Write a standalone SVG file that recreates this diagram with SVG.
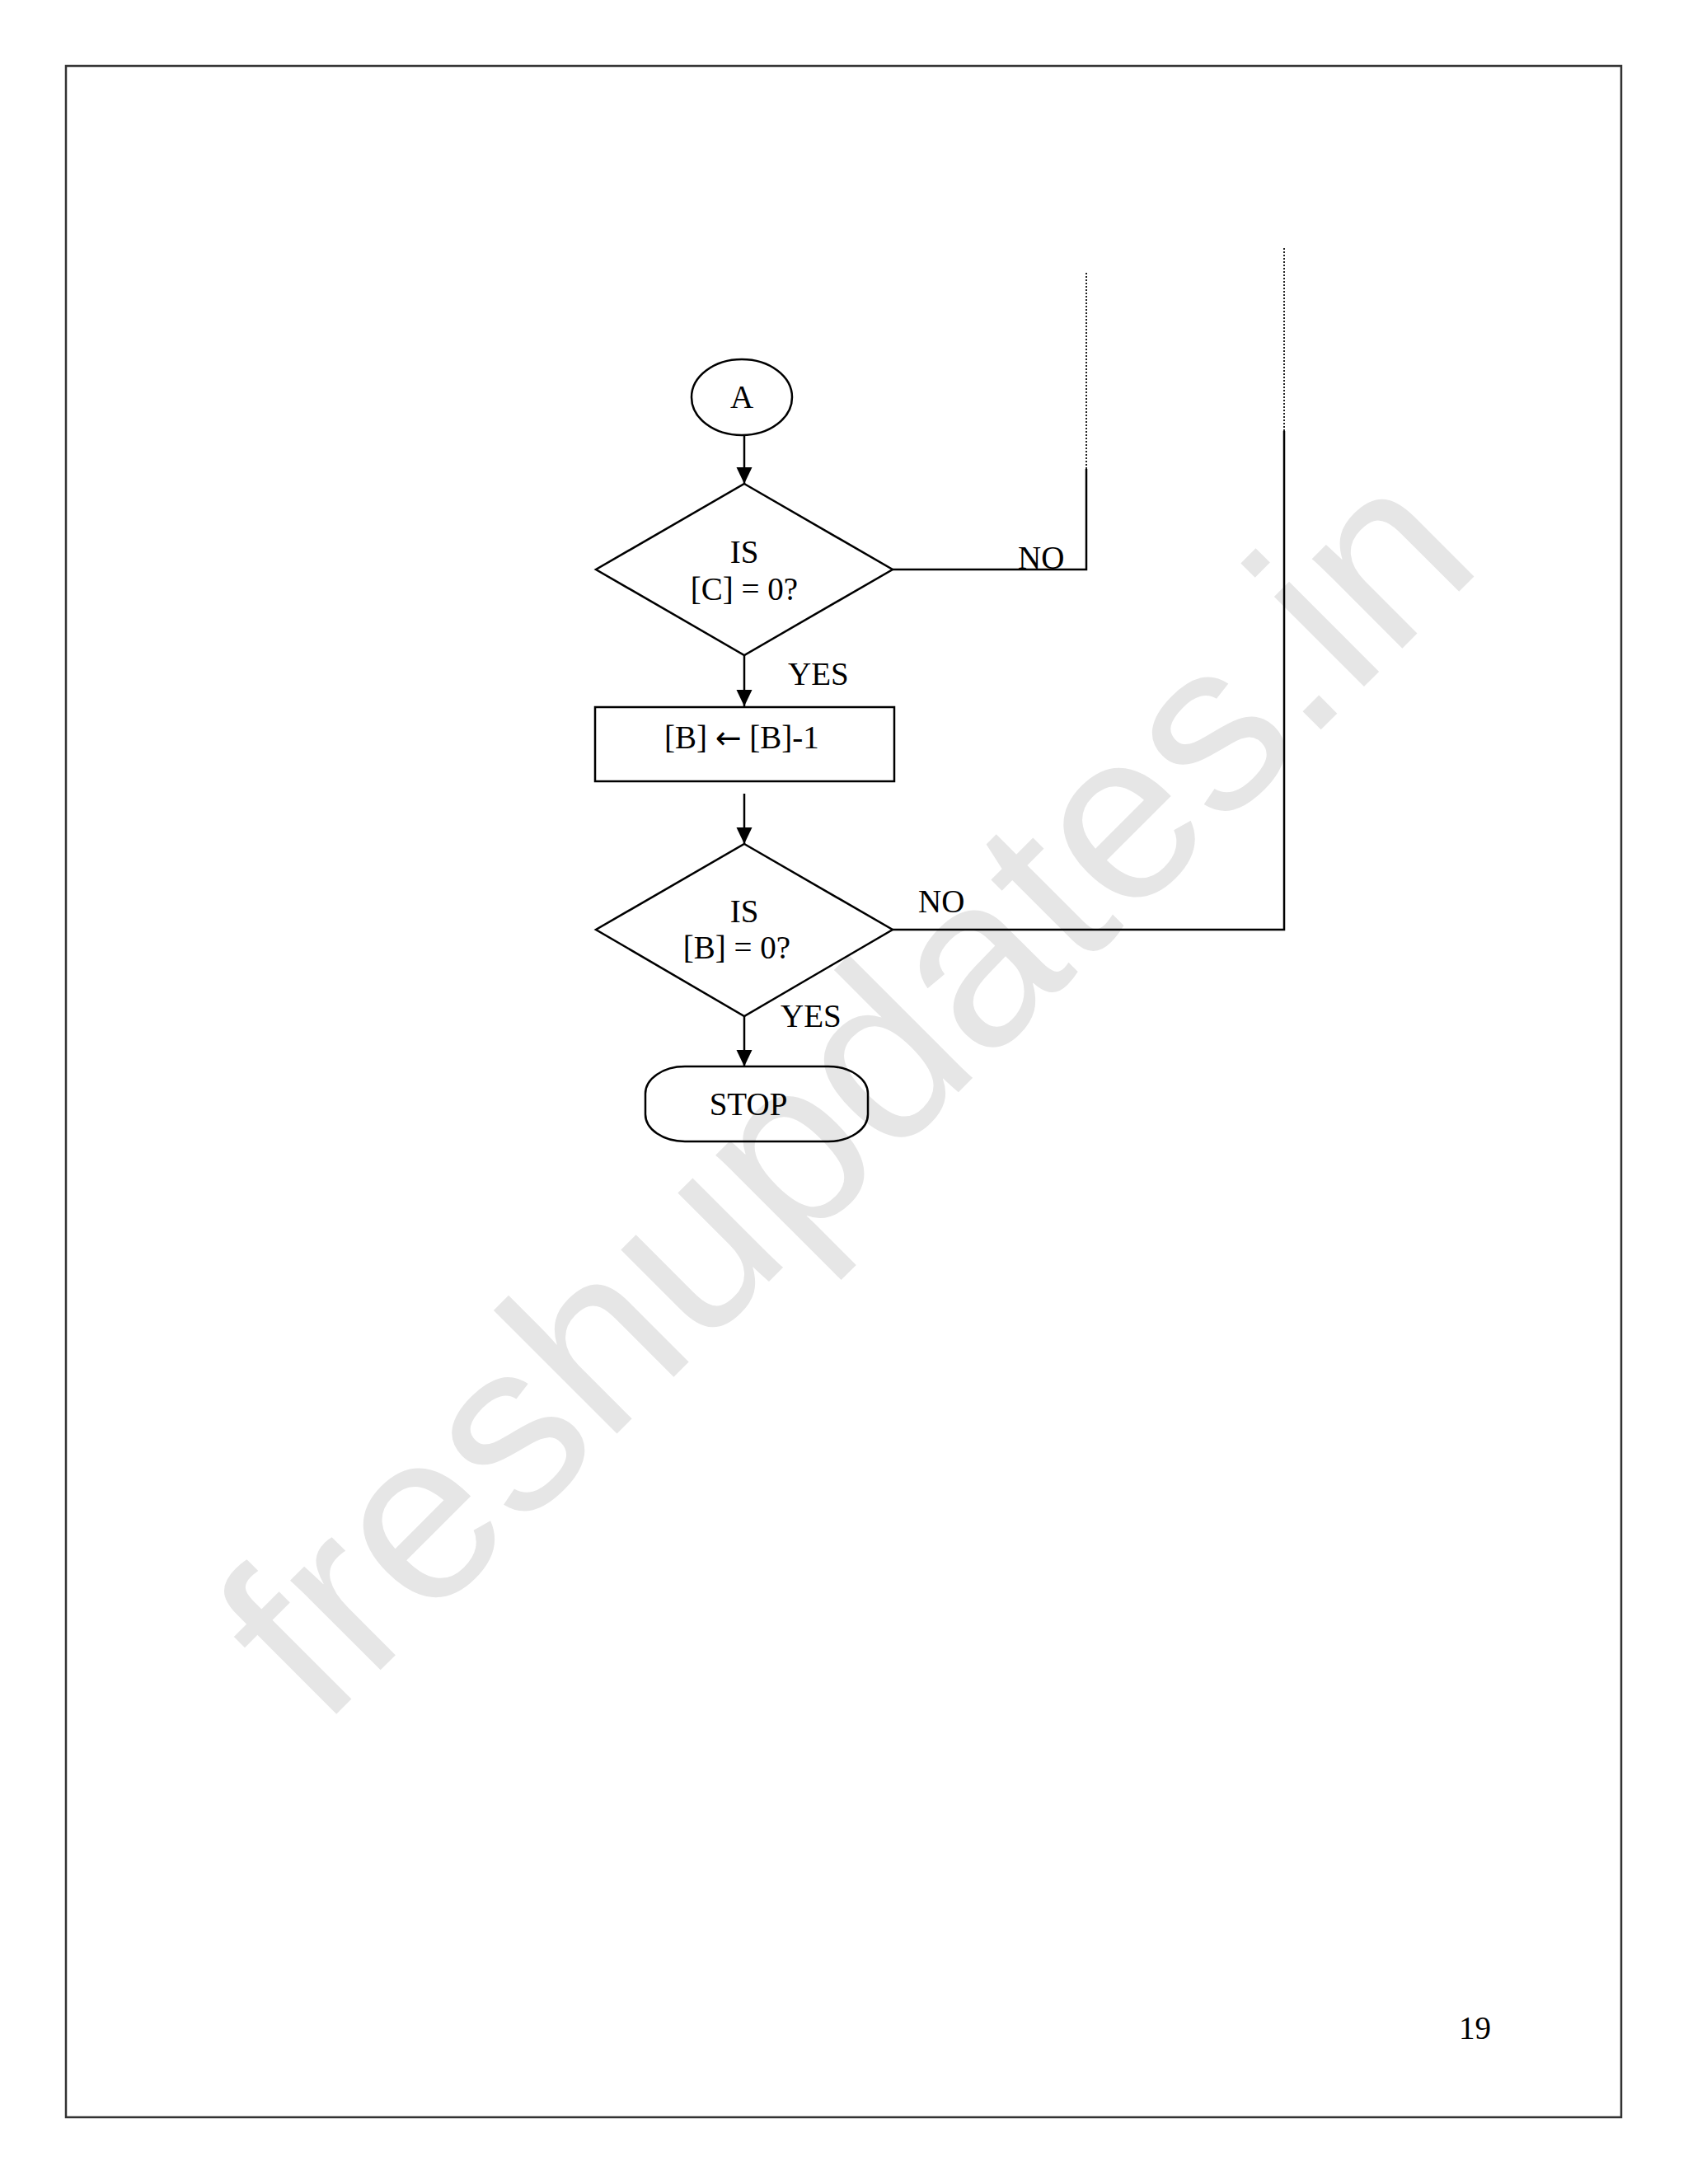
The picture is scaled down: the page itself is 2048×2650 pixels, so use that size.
<svg xmlns="http://www.w3.org/2000/svg" width="2048" height="2650" viewBox="0 0 2048 2650">
<style>
.shape{fill:none;stroke:#000;stroke-width:2.5}
.conn{fill:none;stroke:#000;stroke-width:2.5}
.dot{fill:none;stroke:#222;stroke-width:2;stroke-dasharray:2 2}
.t{font-family:"Liberation Serif","Times New Roman",serif;font-size:39px;fill:#000}
.c{text-anchor:middle}
.arr{font-family:"DejaVu Sans",sans-serif;font-size:38px}
.wm{font-family:"Liberation Sans",Arial,sans-serif;font-size:292px;fill:#e6e6e6}
</style>
<defs>
<marker id="ah" markerUnits="userSpaceOnUse" markerWidth="20" markerHeight="24" refX="20" refY="9.5" orient="auto">
<path d="M0,0 L20,9.5 L0,19 Z" fill="#000"/>
</marker>
</defs>
<rect width="2048" height="2650" fill="#fff"/>
<text class="wm" transform="translate(390,2098) rotate(-45)">freshupdates.in</text>
<rect id="page" x="80" y="80" width="1887" height="2489" fill="none" stroke="#333" stroke-width="2.5"/>
<g id="connectors">
<line class="conn" x1="903" y1="527" x2="903" y2="587" marker-end="url(#ah)"/>
<line class="conn" x1="903" y1="795" x2="903" y2="857" marker-end="url(#ah)"/>
<line class="conn" x1="903" y1="963" x2="903" y2="1024" marker-end="url(#ah)"/>
<line class="conn" x1="903" y1="1233" x2="903" y2="1294" marker-end="url(#ah)"/>
<polyline class="conn" points="1083,691 1318,691 1318,569"/>
<line class="dot" x1="1318" y1="569" x2="1318" y2="330"/>
<polyline class="conn" points="1083,1128 1558,1128 1558,523"/>
<line class="dot" x1="1558" y1="523" x2="1558" y2="300"/>
<text class="t" x="1235" y="690">NO</text>
<text class="t" x="956" y="831">YES</text>
<text class="t" x="1114" y="1107">NO</text>
<text class="t" x="947" y="1246">YES</text>
</g>
<g id="node-a">
<ellipse class="shape" cx="900" cy="482" rx="61" ry="46"/>
<text class="t c" x="900" y="495">A</text>
</g>
<g id="node-dec-c">
<polygon class="shape" points="903,587 1083,691 903,795 723,691"/>
<text class="t c" x="903" y="683">IS</text>
<text class="t c" x="903" y="728">[C] = 0?</text>
</g>
<g id="node-dec-b-step">
<rect class="shape" x="722" y="858" width="363" height="90"/>
<text class="t" x="806" y="908">[B] <tspan class="arr">←</tspan> [B]-1</text>
</g>
<g id="node-dec-b">
<polygon class="shape" points="903,1024 1083,1128 903,1233 723,1128"/>
<text class="t c" x="903" y="1119">IS</text>
<text class="t c" x="894" y="1163">[B] = 0?</text>
</g>
<g id="node-stop">
<rect class="shape" x="783" y="1294" width="270" height="91" rx="48" ry="33"/>
<text class="t c" x="908" y="1353">STOP</text>
</g>
<text class="t" x="1770" y="2474" font-size="41">19</text>
</svg>
